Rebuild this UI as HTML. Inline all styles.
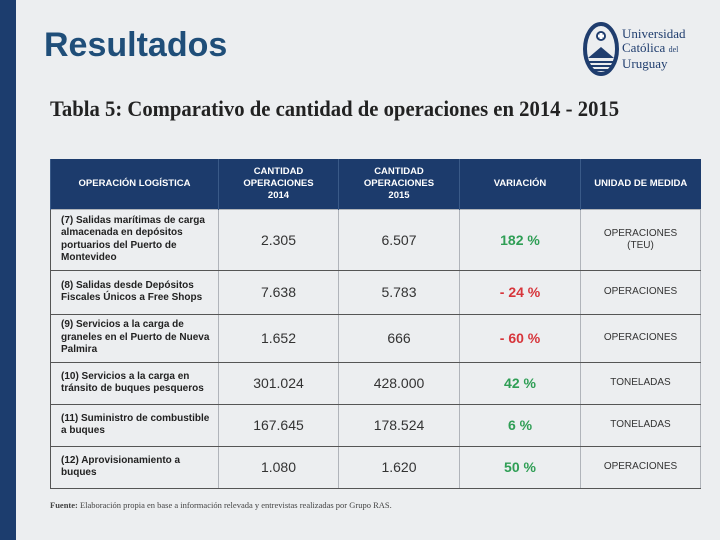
<!DOCTYPE html>
<html><head><meta charset="utf-8"><style>
*{margin:0;padding:0;box-sizing:border-box}
body{width:720px;height:540px;background:#eceef0;position:relative;overflow:hidden;font-family:"Liberation Sans",sans-serif}
.bar{position:absolute;left:0;top:0;width:16px;height:540px;background:#1c3d6e}
h1{position:absolute;left:44px;top:26px;font-size:34px;font-weight:bold;color:#1f4e79;letter-spacing:0px}
.sub{position:absolute;left:50px;top:96px;font-family:"Liberation Serif",serif;font-weight:bold;font-size:22px;color:#222;white-space:nowrap;transform:scaleX(0.94);transform-origin:left}
table{position:absolute;left:50px;top:159px;border-collapse:collapse;width:650px;table-layout:fixed}
th{background:#1c3b6c;color:#fff;font-size:9.5px;font-weight:bold;height:50px;border-left:1px solid #3a5a88;line-height:12px}
td{border:1px solid #b0b4ba;border-bottom:1.5px solid #555;text-align:center;font-size:14px;color:#333;vertical-align:middle}
td.op{text-align:left;font-size:10px;font-weight:bold;padding:0 6px 0 10px;line-height:12.5px;color:#222;border-left:1px solid #555}
td.g{color:#2f9e55;font-weight:bold}
td.r{color:#d7353b;font-weight:bold}
td.u{font-size:10px;line-height:12px;color:#333}
.src{position:absolute;left:50px;top:500px;font-size:8.5px;color:#444;font-family:"Liberation Serif",serif}
.logo{position:absolute;left:583px;top:22px}
.lt{position:absolute;left:622px;top:27px;font-family:"Liberation Serif",serif;font-size:13px;line-height:14px;color:#1f3d6e}
</style></head><body>
<div class="bar"></div>
<h1>Resultados</h1>
<div class="logo">
<svg width="36" height="54" viewBox="0 0 36 54"><ellipse cx="18" cy="27" rx="16" ry="25" fill="none" stroke="#1f3d6e" stroke-width="4"/><circle cx="18" cy="14" r="5" fill="#1f3d6e"/><path d="M16.5 11h3v6h-3z M15 12.5h6v3h-6z" fill="#fff"/><path d="M5 36 L18 25 L31 36 Z" fill="#1f3d6e"/><path d="M5 40h26M6 44h24M8 48h20" stroke="#1f3d6e" stroke-width="2"/></svg>
</div>
<div class="lt">Universidad<br>Católica <span style="font-size:8px">del</span><br>Uruguay</div>
<div class="sub">Tabla 5: Comparativo de cantidad de operaciones en 2014 - 2015</div>
<table>
<colgroup><col style="width:168px"><col style="width:120px"><col style="width:121px"><col style="width:121px"><col style="width:120px"></colgroup>
<tr><th>OPERACIÓN LOGÍSTICA</th><th>CANTIDAD<br>OPERACIONES<br>2014</th><th>CANTIDAD<br>OPERACIONES<br>2015</th><th>VARIACIÓN</th><th>UNIDAD DE MEDIDA</th></tr>
<tr style="height:61px"><td class="op">(7) Salidas marítimas de carga almacenada en depósitos portuarios del Puerto de Montevideo</td><td>2.305</td><td>6.507</td><td class="g">182 %</td><td class="u">OPERACIONES<br>(TEU)</td></tr>
<tr style="height:44px"><td class="op">(8) Salidas desde Depósitos Fiscales Únicos a Free Shops</td><td>7.638</td><td>5.783</td><td class="r">- 24 %</td><td class="u">OPERACIONES</td></tr>
<tr style="height:48px"><td class="op">(9) Servicios a la carga de graneles en el Puerto de Nueva Palmira</td><td>1.652</td><td>666</td><td class="r">- 60 %</td><td class="u">OPERACIONES</td></tr>
<tr style="height:42px"><td class="op">(10) Servicios a la carga en tránsito de buques pesqueros</td><td>301.024</td><td>428.000</td><td class="g">42 %</td><td class="u">TONELADAS</td></tr>
<tr style="height:42px"><td class="op">(11) Suministro de combustible a buques</td><td>167.645</td><td>178.524</td><td class="g">6 %</td><td class="u">TONELADAS</td></tr>
<tr style="height:42px"><td class="op">(12) Aprovisionamiento a<br>buques</td><td>1.080</td><td>1.620</td><td class="g">50 %</td><td class="u">OPERACIONES</td></tr>
</table>
<div class="src"><b>Fuente:</b> Elaboración propia en base a información relevada y entrevistas realizadas por Grupo RAS.</div>
</body></html>
